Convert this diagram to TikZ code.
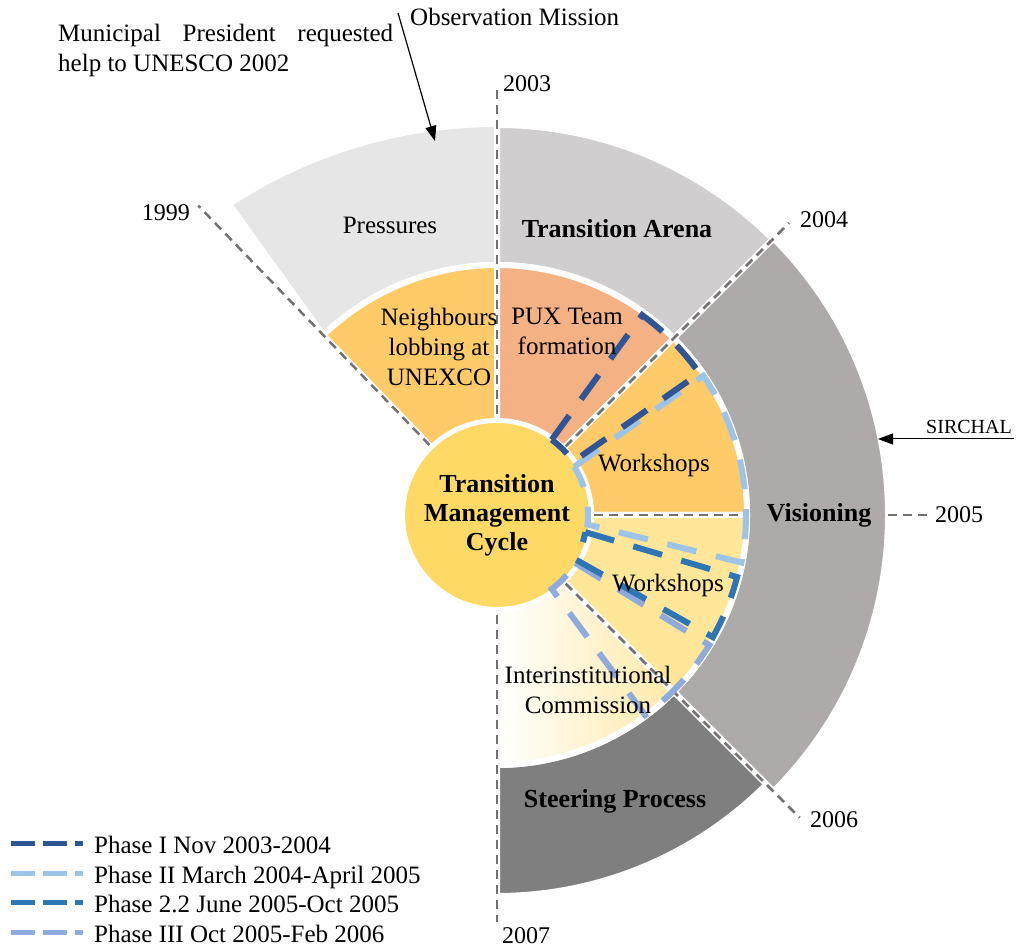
\documentclass[tikz,border=0pt]{standalone}
\usepackage{fontspec}
\setmainfont{Liberation Serif}
\usetikzlibrary{arrows.meta}

\definecolor{pressgray}{HTML}{E7E6E6}
\definecolor{arenagray}{HTML}{D0CECE}
\definecolor{visiongray}{HTML}{AEAAAA}
\definecolor{steergray}{HTML}{7F7F7F}
\definecolor{warmorange}{HTML}{FFCA68}
\definecolor{salmon}{HTML}{F4B183}
\definecolor{paleyellow}{HTML}{FFE699}
\definecolor{coreyellow}{HTML}{FFD966}
\definecolor{yeargray}{HTML}{767171}
\definecolor{phaseone}{HTML}{2F5597}
\definecolor{phasetwo}{HTML}{9DC3E6}
\definecolor{phasetwotwo}{HTML}{2E75B6}
\definecolor{phasethree}{HTML}{8FAADC}

% annular sector: start angle, end angle, inner radius, outer radius (pt)
\newcommand\sectorpath[4]{(#1:#3pt) arc[start angle=#1,end angle=#2,radius=#3pt] -- (#2:#4pt) arc[start angle=#2,end angle=#1,radius=#4pt] -- cycle}

\begin{document}
\begin{tikzpicture}[x=1pt,y=1pt,
  lbl/.style={font=\fontsize{25}{30}\selectfont, inner sep=0pt, align=center},
  blbl/.style={font=\fontsize{26}{29}\selectfont\bfseries, inner sep=0pt, align=center},
  yearlbl/.style={font=\fontsize{24}{28}\selectfont, inner sep=0pt},
  yearline/.style={draw=yeargray, line width=2.5pt, dash pattern=on 9pt off 6pt},
  sectorfill/.style={draw=white, line width=6pt, line join=round},
  phaseline/.style={line width=6pt, dash pattern=on 30pt off 20pt},
  legendline/.style={line width=5pt, dash pattern=on 24pt off 8pt},
  pointer/.style={draw=black, line width=1.2pt, -{Triangle[length=15pt,width=11pt]}}
]
\useasboundingbox (0,0) rectangle (1017,949);

\begin{scope}[shift={(497,434)}]
  % outer ring (Pressures bulges further out on its left side)
  \filldraw[sectorfill, fill=pressgray] (90:250pt) -- (90:391pt)
     arc[start angle=90,end angle=123.3,radius=488pt] -- (134:250pt)
     arc[start angle=134,end angle=90,radius=250pt] -- cycle;
  \filldraw[sectorfill, fill=arenagray] \sectorpath{45}{90}{250}{390};
  \filldraw[sectorfill, fill=visiongray] \sectorpath{-45}{45}{250}{391};
  \filldraw[sectorfill, fill=steergray] \sectorpath{-90}{-45}{250}{381};
  % inner ring
  \filldraw[sectorfill, fill=warmorange] \sectorpath{90}{134}{92}{250};
  \filldraw[sectorfill, fill=salmon] \sectorpath{45}{90}{92}{250};
  \filldraw[sectorfill, fill=warmorange] \sectorpath{0}{45}{92}{250};
  \filldraw[sectorfill, fill=paleyellow] \sectorpath{-45}{0}{92}{250};
  \shade[left color=white, right color=paleyellow!85!white] \sectorpath{-90}{-45}{92}{250};
  \draw[sectorfill] \sectorpath{-90}{-45}{92}{250};

  % year boundaries
  \coordinate (t99a) at (134:97pt);   \coordinate (t99b) at (134:430pt);
  \coordinate (t03a) at (0,425);      \coordinate (t03b) at (0,-407);
  \coordinate (t04a) at (45:97pt);    \coordinate (t04b) at (45:413pt);
  \coordinate (t05a) at (97,0);       \coordinate (t05b) at (250,0);
  \coordinate (t05c) at (391,0);      \coordinate (t05d) at (433,0);
  \coordinate (t06a) at (-45:97pt);   \coordinate (t06b) at (-45:428pt);
  \draw[yearline] (t99a) -- (t99b);
  \draw[yearline] (t03a) -- (t03b);
  \draw[yearline] (t04a) -- (t04b);
  \draw[yearline] (t05a) -- (t05b);
  \draw[yearline] (t05c) -- (t05d);
  \draw[yearline] (t06a) -- (t06b);

  % core of the cycle
  \node[circle, fill=coreyellow, draw=white, line width=5pt, minimum size=189pt,
        inner sep=0pt, blbl] (core) at (0,0) {Transition\\Management\\Cycle};

  % phases
  \draw[phaseline, draw=phasetwo] (32:91pt) -- (34:249pt)
     arc[start angle=34,end angle=-11,radius=249pt] -- (-6:91pt)
     arc[start angle=-6,end angle=32,radius=91pt] -- cycle;
  \draw[phaseline, draw=phaseone] (54:93pt) -- (54:247pt)
     arc[start angle=54,end angle=35,radius=247pt] -- (35:93pt)
     arc[start angle=35,end angle=54,radius=93pt] -- cycle;
  \draw[phaseline, draw=phasethree] (-31.5:92pt) -- (-31.5:249pt)
     arc[start angle=-31.5,end angle=-53.5,radius=249pt] -- (-53.5:92pt)
     arc[start angle=-53.5,end angle=-31.5,radius=92pt] -- cycle;
  \draw[phaseline, draw=phasetwotwo] (-11:90pt) -- (-14.5:248pt)
     arc[start angle=-14.5,end angle=-29.5,radius=248pt] -- (-29.5:90pt)
     arc[start angle=-29.5,end angle=-11,radius=90pt] -- cycle;
\end{scope}

% sector labels
\node[lbl, anchor=base] (pressures) at (390,715) {Pressures};
\node[blbl, anchor=base] (arena) at (617,711) {Transition Arena};
\node[blbl, anchor=base] (visioning) at (819,427) {Visioning};
\node[blbl, anchor=base] (steering) at (615,141) {Steering Process};
\node[lbl, anchor=north] (neighbours) at (439,641) {Neighbours\\lobbing at\\UNEXCO};
\node[lbl, anchor=north] (pux) at (567,641) {PUX Team\\formation};
\node[lbl, anchor=base] (workshopsA) at (654,477) {Workshops};
\node[lbl, anchor=base] (workshopsB) at (668,357) {Workshops};
\node[lbl, anchor=north] (commission) at (588,283) {Interinstitutional\\Commission};

% years
\node[yearlbl, anchor=base east] (y1999) at (190,728) {1999};
\node[yearlbl, anchor=base west] (y2003) at (503,857) {2003};
\node[yearlbl, anchor=base west] (y2004) at (800,721) {2004};
\node[yearlbl, anchor=base west] (y2005) at (935,426) {2005};
\node[yearlbl, anchor=base west] (y2006) at (810,121) {2006};
\node[yearlbl, anchor=base west] (y2007) at (502,5) {2007};

% annotations
\node[lbl, anchor=base west] (mission) at (410,923) {Observation Mission};
\node[lbl, anchor=north west, align=left] (request) at (58,925)
  {\makebox[335pt][s]{Municipal President requested}\\help to UNESCO 2002};
\coordinate (missionFrom) at (398,936);
\coordinate (missionTo) at (435,808);
\draw[pointer] (missionFrom) -- (missionTo);

\node[font=\fontsize{20}{24}\selectfont, inner sep=0pt, anchor=base east] (sirchal) at (1012,515) {SIRCHAL};
\coordinate (sirchalFrom) at (1014,510);
\coordinate (sirchalTo) at (878,510);
\draw[pointer, line width=1pt] (sirchalFrom) -- (sirchalTo);

% legend
\node[lbl, anchor=base west] (leg1) at (94,95) {Phase I Nov 2003-2004};
\node[lbl, anchor=base west] (leg2) at (94,65) {Phase II March 2004-April 2005};
\node[lbl, anchor=base west] (leg3) at (94,36) {Phase 2.2 June 2005-Oct 2005};
\node[lbl, anchor=base west] (leg4) at (94,6) {Phase III Oct 2005-Feb 2006};
\draw[legendline, draw=phaseone] ([shift={(-83pt,10pt)}]leg1.base west) -- ([shift={(-11pt,10pt)}]leg1.base west);
\draw[legendline, draw=phasetwo] ([shift={(-83pt,10pt)}]leg2.base west) -- ([shift={(-11pt,10pt)}]leg2.base west);
\draw[legendline, draw=phasetwotwo] ([shift={(-83pt,10pt)}]leg3.base west) -- ([shift={(-11pt,10pt)}]leg3.base west);
\draw[legendline, draw=phasethree] ([shift={(-83pt,10pt)}]leg4.base west) -- ([shift={(-11pt,10pt)}]leg4.base west);
\end{tikzpicture}
\end{document}
